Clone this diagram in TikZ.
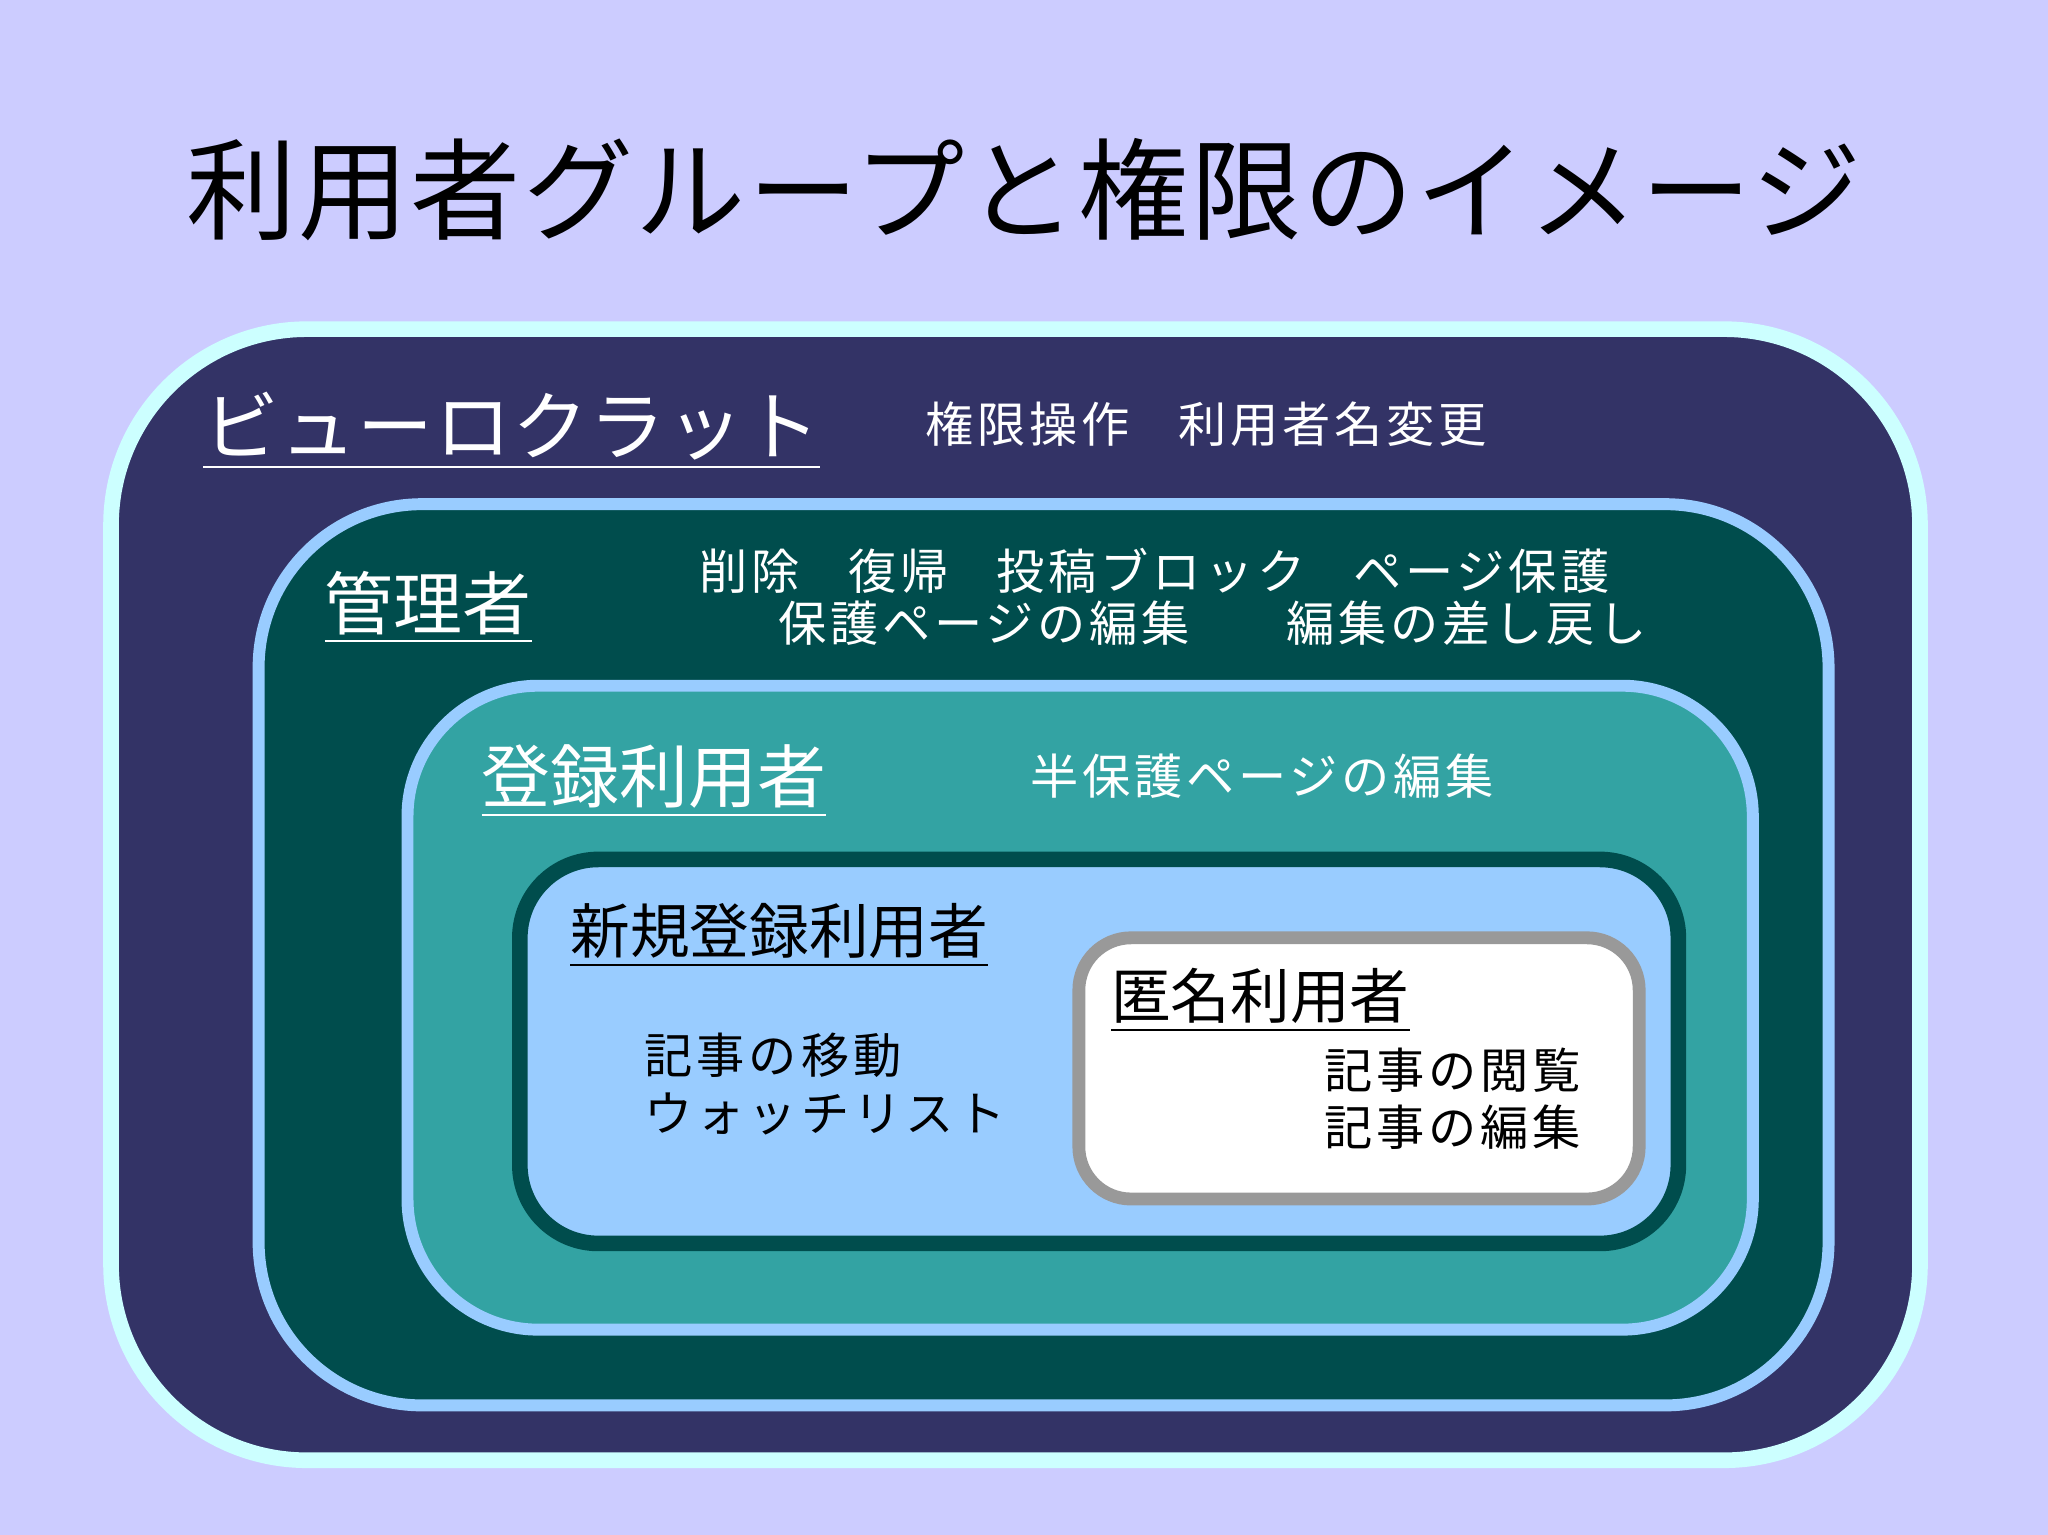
\documentclass[tikz,border=0pt]{standalone}
\usepackage{fontspec}
\setmainfont{Noto Sans CJK JP}
\definecolor{bg}{HTML}{CCCCFF}
\definecolor{navy}{HTML}{333366}
\definecolor{cyanb}{HTML}{CCFFFF}
\definecolor{lblue}{HTML}{99CCFF}
\definecolor{dteal}{HTML}{004D4D}
\definecolor{teal2}{HTML}{33A3A3}
\definecolor{grayb}{HTML}{999999}
\tikzset{lbl/.style={anchor=west,inner sep=0pt,text=white},
 blk/.style={anchor=west,inner sep=0pt,text=black},
 perm/.style={font=\fontsize{10.5}{12.5}\selectfont\addfontfeature{LetterSpace=8}},
 grp/.style={font=\fontsize{15}{18}\selectfont}}
\begin{document}
\begin{tikzpicture}[x=0.01cm,y=-0.01cm]
\fill[bg] (0,0) rectangle (1568,1175);
\useasboundingbox (0,0) rectangle (1568,1175);
\node[blk,anchor=center,font=\fontsize{24}{28}\selectfont\addfontfeature{LetterSpace=2}] (title) at (784,145) {利用者グループと権限のイメージ};
\draw[cyanb,line width=3.4pt,fill=navy,rounded corners=1.5cm] (85,252) rectangle (1470,1118);
\draw[lblue,line width=2.6pt,fill=dteal,rounded corners=1.25cm] (198,386) rectangle (1400,1076);
\draw[lblue,line width=2.6pt,fill=teal2,rounded corners=1.0cm] (312,525) rectangle (1342,1018);
\draw[dteal,line width=3.4pt,fill=lblue,rounded corners=0.6cm] (398,658) rectangle (1285,952);
\draw[grayb,line width=2.8pt,fill=white,rounded corners=0.4cm] (826,718) rectangle (1255,918);
\node[lbl,font=\fontsize{16.5}{20}\selectfont\addfontfeature{LetterSpace=2}] (bur) at (155,330) {\underline{ビューロクラット}};
\node[lbl,perm] (bp) at (708,325) {権限操作\quad 利用者名変更};
\node[lbl,grp] (adm) at (248,465) {\underline{管理者}};
\node[lbl,perm] (ap1) at (535,437) {削除\quad 復帰\quad 投稿ブロック\quad ページ保護};
\node[lbl,perm] (ap2) at (595,477) {保護ページの編集\qquad 編集の差し戻し};
\node[lbl,grp] (reg) at (368,598) {\underline{登録利用者}};
\node[lbl,perm] (rp) at (788,594) {半保護ページの編集};
\node[blk,font=\fontsize{13}{16}\selectfont] (newr) at (436,716) {\underline{新規登録利用者}};
\node[blk,perm,align=left] (np) at (493,830) {記事の移動\\ウォッチリスト};
\node[blk,font=\fontsize{13}{16}\selectfont] (anon) at (850,766) {\underline{匿名利用者}};
\node[blk,perm,align=left] (anp) at (1013,841) {記事の閲覧\\記事の編集};
\end{tikzpicture}
\end{document}
